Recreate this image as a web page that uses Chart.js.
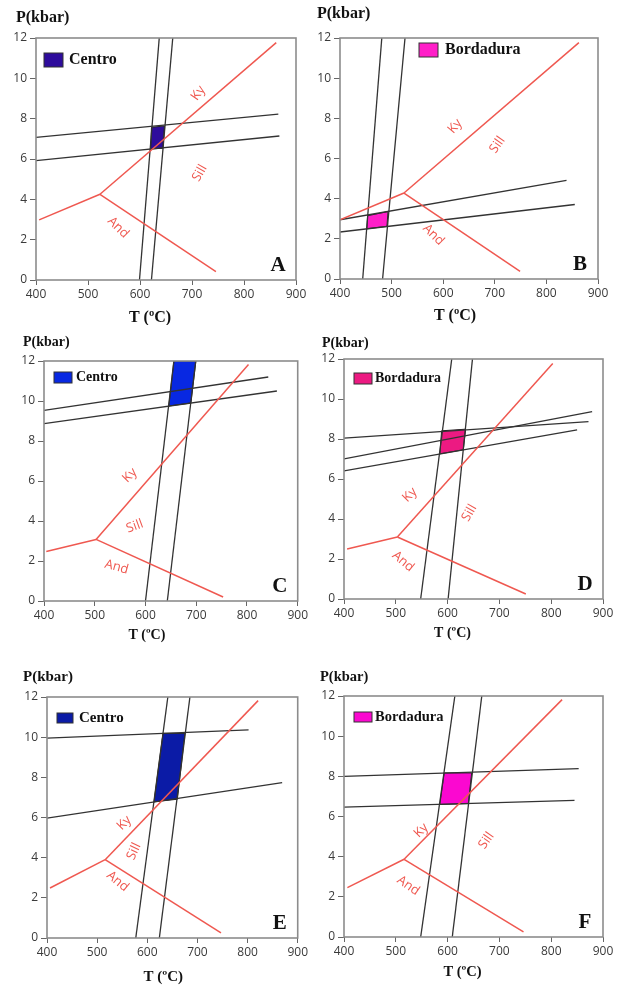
<!DOCTYPE html>
<html>
<head>
<meta charset="utf-8">
<script src="https://cdn.jsdelivr.net/npm/chart.js@4.4.1/dist/chart.umd.min.js"></script>
<style>
  body { margin: 0; background: #fff; }
  #page { position: relative; width: 621px; height: 985px; overflow: hidden; }
  canvas { position: absolute; }
</style>
</head>
<body>
<div id="page"></div>
<script>
// ticks shared by the six P-T diagrams
const tTicks = [400, 500, 600, 700, 800, 900];
const pTicks = [0, 2, 4, 6, 8, 10, 12];

// A - Centro
const aAndKy = [[406, 2.98], [523, 4.25]];
const aKySill = [[523, 4.25], [862, 11.77]];
const aAndSill = [[523, 4.25], [746, 0.41]];
const aIsobars = [[[400, 7.07], [866, 8.23]], [[400, 5.92], [868, 7.14]]];
const aIsotherms = [[[599, 0], [637, 12]], [[622, 0], [663, 12]]];
const aField = [[622, 7.57], [647, 7.64], [644, 6.53], [620.5, 6.5]];

// B - Bordadura
const bAndKy = [[400, 2.95], [524, 4.28]];
const bKySill = [[524, 4.28], [863, 11.77]];
const bAndSill = [[524, 4.28], [749, 0.38]];
const bIsobars = [[[400, 2.95], [839, 4.91]], [[400, 2.34], [855, 3.71]]];
const bIsotherms = [[[444, 0], [481, 12]], [[482.5, 0], [526, 12]]];
const bField = [[453.5, 3.15], [493, 3.36], [491, 2.62], [452, 2.5]];

// C - Centro
const cAndKy = [[404.5, 2.48], [502.6, 3.08]];
const cKySill = [[502.6, 3.08], [803, 11.82]];
const cAndSill = [[502.6, 3.08], [753, 0.2]];
const cIsobars = [[[400, 9.53], [842, 11.2]], [[400, 8.87], [859, 10.5]]];
const cIsotherms = [[[600, 0], [656, 12]], [[643, 0], [699, 12]]];
const cField = [[656, 12], [699.4, 12], [689.5, 9.9], [646, 9.75]];

// D - Bordadura
const dAndKy = [[406, 2.5], [503, 3.1]];
const dKySill = [[503, 3.1], [803, 11.78]];
const dAndSill = [[503, 3.1], [751, 0.25]];
const dIsobars = [[[400, 8.04], [872, 8.87]], [[400, 7.01], [879, 9.37]], [[400, 6.41], [850, 8.46]]];
const dIsotherms = [[[548, 0], [608, 12]], [[601, 0], [648, 12]]];
const dField = [[588.4, 8.41], [634.8, 8.49], [630.3, 7.46], [585.2, 7.26]];

// E - Centro
const eAndKy = [[406, 2.49], [516, 3.9]];
const eKySill = [[516, 3.9], [821, 11.82]];
const eAndSill = [[516, 3.9], [747, 0.25]];
const eIsobars = [[[400, 9.95], [802, 10.36]], [[400, 5.97], [869, 7.74]]];
const eIsotherms = [[[577, 0], [641, 12]], [[624, 0], [685, 12]]];
const eField = [[631.4, 10.19], [675, 10.19], [660, 6.91], [613.4, 6.78]];

// F - Bordadura
const fAndKy = [[406.5, 2.46], [516, 3.87]];
const fKySill = [[516, 3.87], [821, 11.82]];
const fAndSill = [[516, 3.87], [746.5, 0.25]];
const fIsobars = [[[400, 8.0], [853, 8.38]], [[400, 6.47], [845, 6.8]]];
const fIsotherms = [[[548, 0], [614, 12]], [[609, 0], [666, 12]]];
const fField = [[593.5, 8.17], [646.5, 8.17], [640, 6.64], [585, 6.6]];

const RED = '#ef5850';
const INK = '#333';

// canvas box [x, y, w, h], plot area [left, top, right, bottom] in page px
const panels = [
  { letter: 'A', name: 'Centro', color: '#2e0c9c', box: [0, 0, 310, 325], plot: [36, 38, 296, 280],
    red: [aAndKy, aKySill, aAndSill], black: aIsobars.concat(aIsotherms), field: aField,
    phases: [['Ky', 712, 9.26, -55], ['Sill', 715, 5.3, -60], ['And', 558, 2.6, 45]],
    big: 16, legend: [8, 15, 19, 14, 33, 22], pTitle: [-20, -20], tTitle: [-16, 38] },
  { letter: 'B', name: 'Bordadura', color: '#ff1ec8', box: [305, 0, 316, 325], plot: [340, 38, 598, 279],
    red: [bAndKy, bKySill, bAndSill], black: bIsobars.concat(bIsotherms), field: bField,
    phases: [['Ky', 623, 7.6, -50], ['Sill', 705, 6.68, -55], ['And', 581, 2.2, 45]],
    big: 16, legend: [79, 5, 19, 14, 105, 12], pTitle: [-23, -24], tTitle: [-14, 37] },
  { letter: 'C', name: 'Centro', color: '#0828e2', box: [0, 322, 310, 323], plot: [44, 361, 303, 601],
    red: [cAndKy, cKySill, cAndSill], black: cIsobars.concat(cIsotherms), field: cField,
    phases: [['Ky', 569, 6.28, -45], ['Sill', 579, 3.73, -20], ['And', 543, 1.7, 15]],
    big: 14, legend: [10, 11, 18, 11, 32, 16], pTitle: [-21, -19], tTitle: [-24, 34] },
  { letter: 'D', name: 'Bordadura', color: '#ec1a82', box: [305, 322, 316, 323], plot: [344, 359, 603, 599],
    red: [dAndKy, dKySill, dAndSill], black: dIsobars.concat(dIsotherms), field: dField,
    phases: [['Ky', 527, 5.2, -45], ['Sill', 642, 4.3, -60], ['And', 514, 1.88, 40]],
    big: 14, legend: [10, 14, 18, 11, 31, 19.5], pTitle: [-22, -16], tTitle: [-21, 34] },
  { letter: 'E', name: 'Centro', color: '#0b1ba6', box: [0, 655, 310, 330], plot: [47, 697, 306, 938],
    red: [eAndKy, eKySill, eAndSill], black: eIsobars.concat(eIsotherms), field: eField,
    phases: [['Ky', 554, 5.72, -45], ['Sill', 573.5, 4.31, -65], ['And', 541, 2.82, 40]],
    big: 15, legend: [10, 16, 16, 10, 32, 21], pTitle: [-24, -20], tTitle: [-9, 39] },
  { letter: 'F', name: 'Bordadura', color: '#fb08d0', box: [305, 655, 316, 330], plot: [344, 696, 603, 937],
    red: [fAndKy, fKySill, fAndSill], black: fIsobars.concat(fIsotherms), field: fField,
    phases: [['Ky', 549, 5.3, -45], ['Sill', 675, 4.8, -55], ['And', 524, 2.56, 35]],
    big: 14.5, legend: [10, 16, 18, 10, 31, 21], pTitle: [-24, -19], tTitle: [-11, 35] }
];

function lineSet(pts, color, width) {
  return {
    data: pts.map(p => ({ x: p[0], y: p[1] })),
    showLine: true, borderColor: color, borderWidth: width,
    pointRadius: 0, fill: false, tension: 0
  };
}

function fieldSet(pts, color) {
  const closed = pts.concat([pts[0]]);
  return {
    data: closed.map(p => ({ x: p[0], y: p[1] })),
    showLine: true, borderColor: '#222', borderWidth: 1,
    backgroundColor: color, fill: 'shape', pointRadius: 0, tension: 0
  };
}

function decor(p) {
  return {
    id: 'decor' + p.letter,
    afterDatasetsDraw(chart) {
      const { ctx, chartArea: a, scales: { x, y } } = chart;
      ctx.save();
      ctx.strokeStyle = '#8c8c8c';
      ctx.lineWidth = 1.6;
      ctx.strokeRect(a.left, a.top, a.right - a.left, a.bottom - a.top);

      // mineral field names
      ctx.fillStyle = RED;
      ctx.font = '13px "Open Sans"';
      ctx.textAlign = 'center';
      ctx.textBaseline = 'middle';
      p.phases.forEach(([txt, t, pr, ang]) => {
        ctx.save();
        ctx.translate(x.getPixelForValue(t), y.getPixelForValue(pr));
        ctx.rotate(ang * Math.PI / 180);
        ctx.fillText(txt, 0, 0);
        ctx.restore();
      });

      // legend
      const [bx, by, bw, bh, tx, ty] = p.legend;
      ctx.fillStyle = p.color;
      ctx.fillRect(a.left + bx, a.top + by, bw, bh);
      ctx.strokeStyle = '#333';
      ctx.lineWidth = 1;
      ctx.strokeRect(a.left + bx, a.top + by, bw, bh);
      ctx.fillStyle = '#111';
      ctx.textAlign = 'left';
      ctx.font = 'bold ' + p.big + 'px "Liberation Serif"';
      ctx.fillText(p.name, a.left + tx, a.top + ty);

      // axis titles
      ctx.fillText('P(kbar)', a.left + p.pTitle[0], a.top + p.pTitle[1]);
      ctx.textAlign = 'center';
      ctx.fillText('T (ºC)', (a.left + a.right) / 2 + p.tTitle[0], a.bottom + p.tTitle[1]);

      // panel letter
      ctx.font = 'bold 21px "Liberation Serif"';
      ctx.fillText(p.letter, a.right - 18, a.bottom - 14);
      ctx.restore();
    }
  };
}

const page = document.getElementById('page');

panels.forEach(p => {
  const c = document.createElement('canvas');
  c.width = p.box[2];
  c.height = p.box[3];
  c.style.left = p.box[0] + 'px';
  c.style.top = p.box[1] + 'px';
  c.style.width = p.box[2] + 'px';
  c.style.height = p.box[3] + 'px';
  page.appendChild(c);

  const datasets = [];
  p.red.forEach(seg => datasets.push(lineSet(seg, RED, 1.5)));
  p.black.forEach(seg => datasets.push(lineSet(seg, INK, 1.3)));
  datasets.push(fieldSet(p.field, p.color));

  const tickFont = { family: '"Open Sans"', size: 12 };

  new Chart(c, {
    type: 'scatter',
    data: { datasets },
    options: {
      responsive: false,
      animation: false,
      layout: {
        padding: {
          left: 0,
          top: p.plot[1] - p.box[1],
          right: p.box[0] + p.box[2] - p.plot[2],
          bottom: 0
        }
      },
      plugins: { legend: { display: false }, tooltip: { enabled: false } },
      scales: {
        x: {
          type: 'linear', min: 400, max: 900,
          afterBuildTicks: s => { s.ticks = tTicks.map(v => ({ value: v })); },
          afterFit: s => { s.height = p.box[1] + p.box[3] - p.plot[3]; },
          grid: { drawOnChartArea: false, drawTicks: true, tickLength: 5, color: '#666' },
          border: { display: false },
          ticks: { font: tickFont, color: '#3a3a3a', padding: 2, maxRotation: 0 }
        },
        y: {
          type: 'linear', min: 0, max: 12,
          afterBuildTicks: s => { s.ticks = pTicks.map(v => ({ value: v })); },
          afterFit: s => { s.width = p.plot[0] - p.box[0]; },
          grid: { drawOnChartArea: false, drawTicks: true, tickLength: 6, color: '#666' },
          border: { display: false },
          ticks: { font: tickFont, color: '#3a3a3a', padding: 3 }
        }
      }
    },
    plugins: [decor(p)]
  });
});
</script>
</body>
</html>
